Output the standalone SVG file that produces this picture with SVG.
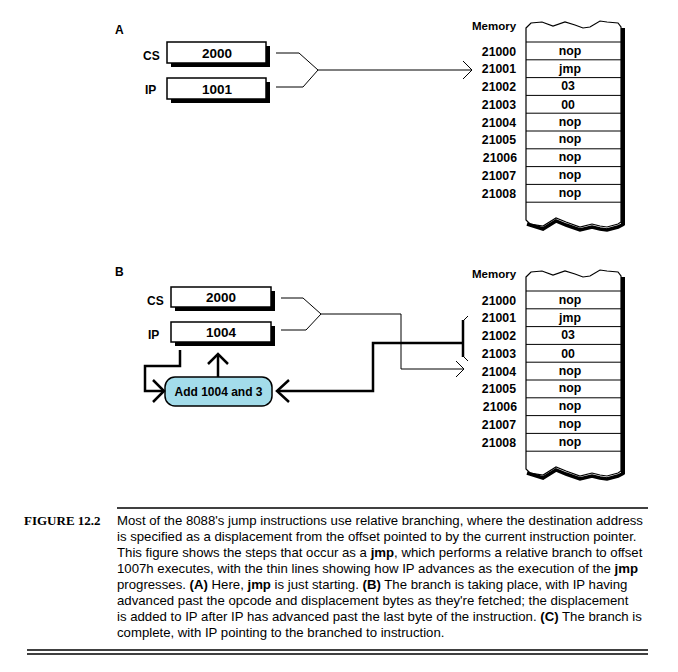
<svg xmlns="http://www.w3.org/2000/svg" width="678" height="672" viewBox="0 0 678 672">
<style>
.lbl{font-family:"Liberation Sans",Arial,sans-serif;font-weight:bold;font-size:12px;fill:#000}
.reg{font-family:"Liberation Sans",Arial,sans-serif;font-weight:bold;font-size:13.5px;fill:#000}
.mem{font-family:"Liberation Sans",Arial,sans-serif;font-weight:bold;font-size:12.3px;fill:#000}
.ctr{text-anchor:middle}
.end{text-anchor:end}
.box{fill:#fff;stroke:#000;stroke-width:1.5}
.sh{fill:#000}
.thin{fill:none;stroke:#000;stroke-width:1}
.thick{fill:none;stroke:#000;stroke-width:2.5}
.row{stroke:#000;stroke-width:1}
.cap{font-family:"Liberation Sans",Arial,sans-serif;font-size:13.2px;fill:#000}
.capb{font-weight:bold}
.fig{font-family:"Liberation Serif","Times New Roman",serif;font-weight:bold;font-size:13px;fill:#000}
</style>

<!-- Panel A -->
<text class="lbl" x="115" y="34">A</text>
<g id="cs-a">
  <rect class="sh" x="171" y="46" width="99" height="21"/>
  <rect class="box" x="167" y="42" width="99" height="21"/>
  <text class="lbl" x="143" y="60">CS</text>
  <text class="reg ctr" x="217" y="57.5">2000</text>
</g>
<g id="ip-a">
  <rect class="sh" x="171" y="82" width="99" height="21"/>
  <rect class="box" x="167" y="78" width="99" height="21"/>
  <text class="lbl" x="145" y="94">IP</text>
  <text class="reg ctr" x="217" y="93.5">1001</text>
</g>

<g id="memory-a">
  <text class="mem" x="472" y="30" style="font-size:11.5px">Memory</text>
  <path d="M526,28 L531,23 L542,22 L553,26 L565,22 L575,25 L583,28 L590,27 L600,21 L607,22 L618,23 L621,27 L621,222 L618,224 L607,227 L600,226 L592,224 L580,227 L566,222 L556,218 L543,226 L530,224 L526,220 Z" fill="#fff" stroke="#000" stroke-width="1.2"/>
  <path d="M527,224 L543,229 L556,221 L566,225 L580,230 L592,227 L600,229 L607,230 L618,227 L624,224" fill="none" stroke="#000" stroke-width="3.5"/>
  <rect class="sh" x="621" y="28" width="4" height="197"/>
  <g class="row">
    <line x1="526" y1="42" x2="621" y2="42"/>
    <line x1="526" y1="59.8" x2="621" y2="59.8"/>
    <line x1="526" y1="77.6" x2="621" y2="77.6"/>
    <line x1="526" y1="95.4" x2="621" y2="95.4"/>
    <line x1="526" y1="113.2" x2="621" y2="113.2"/>
    <line x1="526" y1="131" x2="621" y2="131"/>
    <line x1="526" y1="148.8" x2="621" y2="148.8"/>
    <line x1="526" y1="166.6" x2="621" y2="166.6"/>
    <line x1="526" y1="184.4" x2="621" y2="184.4"/>
    <line x1="526" y1="202.2" x2="621" y2="202.2"/>
  </g>
  <text class="mem end" x="516" y="55.5">21000</text>
  <text class="mem end" x="516" y="73.3">21001</text>
  <text class="mem end" x="516" y="91">21002</text>
  <text class="mem end" x="516" y="108.8">21003</text>
  <text class="mem end" x="516" y="126.6">21004</text>
  <text class="mem end" x="516" y="144.4">21005</text>
  <text class="mem end" x="517" y="162.2">21006</text>
  <text class="mem end" x="516" y="180">21007</text>
  <text class="mem end" x="516" y="197.8">21008</text>
  <text class="mem ctr" x="570" y="55">nop</text>
  <text class="mem ctr" x="570" y="73">jmp</text>
  <text class="mem ctr" x="568" y="90">03</text>
  <text class="mem ctr" x="568" y="108.5">00</text>
  <text class="mem ctr" x="570" y="125.5">nop</text>
  <text class="mem ctr" x="570" y="143.3">nop</text>
  <text class="mem ctr" x="570" y="161">nop</text>
  <text class="mem ctr" x="570" y="179">nop</text>
  <text class="mem ctr" x="570" y="197">nop</text>
</g>

<!-- Panel B -->
<text class="lbl" x="115" y="276">B</text>
<g id="cs-b">
  <rect class="sh" x="175" y="291" width="100" height="20"/>
  <rect class="box" x="171" y="287" width="100" height="20"/>
  <text class="lbl" x="147" y="305">CS</text>
  <text class="reg ctr" x="221" y="302">2000</text>
</g>
<g id="ip-b">
  <rect class="sh" x="175" y="326" width="100" height="20"/>
  <rect class="box" x="171" y="322" width="100" height="20"/>
  <text class="lbl" x="148" y="339">IP</text>
  <text class="reg ctr" x="221" y="337">1004</text>
</g>
<g id="add">
  <rect x="165" y="377" width="107" height="29" rx="10" ry="10" fill="#a3dcea" stroke="#000" stroke-width="1.5"/>
  <text class="lbl ctr" x="218.5" y="396">Add 1004 and 3</text>
</g>

<g id="memory-b">
  <text class="mem" x="472" y="278" style="font-size:11.5px">Memory</text>
  <path d="M526,277 L531,272 L542,271 L553,275 L565,271 L575,274 L583,277 L590,276 L600,270 L607,271 L618,272 L621,276 L621,471 L618,473 L607,476 L600,475 L592,473 L580,476 L566,471 L556,467 L543,475 L530,473 L526,469 Z" fill="#fff" stroke="#000" stroke-width="1.2"/>
  <path d="M527,473 L543,478 L556,470 L566,474 L580,479 L592,476 L600,478 L607,479 L618,476 L624,473" fill="none" stroke="#000" stroke-width="3.5"/>
  <rect class="sh" x="621" y="277" width="4" height="197"/>
  <g class="row">
    <line x1="526" y1="291" x2="621" y2="291"/>
    <line x1="526" y1="308.8" x2="621" y2="308.8"/>
    <line x1="526" y1="326.6" x2="621" y2="326.6"/>
    <line x1="526" y1="344.4" x2="621" y2="344.4"/>
    <line x1="526" y1="362.2" x2="621" y2="362.2"/>
    <line x1="526" y1="380" x2="621" y2="380"/>
    <line x1="526" y1="397.8" x2="621" y2="397.8"/>
    <line x1="526" y1="415.6" x2="621" y2="415.6"/>
    <line x1="526" y1="433.4" x2="621" y2="433.4"/>
    <line x1="526" y1="451.2" x2="621" y2="451.2"/>
  </g>
  <text class="mem end" x="516" y="304.5">21000</text>
  <text class="mem end" x="516" y="322.3">21001</text>
  <text class="mem end" x="516" y="340">21002</text>
  <text class="mem end" x="516" y="357.8">21003</text>
  <text class="mem end" x="516" y="375.6">21004</text>
  <text class="mem end" x="516" y="393.4">21005</text>
  <text class="mem end" x="517" y="411.2">21006</text>
  <text class="mem end" x="516" y="429">21007</text>
  <text class="mem end" x="516" y="446.8">21008</text>
  <text class="mem ctr" x="570" y="304">nop</text>
  <text class="mem ctr" x="570" y="322">jmp</text>
  <text class="mem ctr" x="568" y="339">03</text>
  <text class="mem ctr" x="568" y="357.5">00</text>
  <text class="mem ctr" x="570" y="374.5">nop</text>
  <text class="mem ctr" x="570" y="392.3">nop</text>
  <text class="mem ctr" x="570" y="410">nop</text>
  <text class="mem ctr" x="570" y="428">nop</text>
  <text class="mem ctr" x="570" y="446">nop</text>
</g>

<g id="connectors">
  <!-- A -->
  <polyline class="thin" points="276,53 299,53 318,70 303,87 276,87"/>
  <line class="thin" x1="318" y1="70" x2="472" y2="70"/>
  <polyline class="thin" points="463,61 472,70 463,79"/>
  <!-- B thin -->
  <polyline class="thin" points="281,298 303,298 321,314 306,330 281,330"/>
  <polyline class="thin" points="321,314 401,314 401,369 464,369"/>
  <polyline class="thin" points="456,361 464,369 456,377"/>
  <!-- brace -->
  <line x1="463" y1="320" x2="463" y2="357" stroke="#000" stroke-width="2.5"/>
  <polyline class="thin" points="463,321 468,316"/>
  <polyline class="thin" points="463,356 468,361"/>
  <!-- thick path to add box -->
  <polyline class="thick" points="463,343 373,343 373,391 278,391"/>
  <polyline class="thick" points="289,380 277,391 289,402"/>
  <!-- IP to add -->
  <polyline class="thick" points="180,350 180,366 145,366 145,391 163,391"/>
  <polyline class="thick" points="153,380 164,391 153,402"/>
  <!-- add to IP -->
  <line class="thick" x1="218" y1="377" x2="218" y2="354"/>
  <polyline class="thick" points="208,364 218,354 228,364"/>
</g>

<!-- Caption -->
<line x1="117" y1="508" x2="648" y2="508" stroke="#000" stroke-width="1.5"/>
<text class="fig" x="24" y="525">FIGURE 12.2</text>
<text class="cap" x="117" y="525">Most of the 8088's jump instructions use relative branching, where the destination address</text>
<text class="cap" x="117" y="541">is specified as a displacement from the offset pointed to by the current instruction pointer.</text>
<text class="cap" x="117" y="557">This figure shows the steps that occur as a <tspan class="capb">jmp</tspan>, which performs a relative branch to offset</text>
<text class="cap" x="117" y="573">1007h executes, with the thin lines showing how IP advances as the execution of the <tspan class="capb">jmp</tspan></text>
<text class="cap" x="117" y="589">progresses. <tspan class="capb">(A)</tspan> Here, <tspan class="capb">jmp</tspan> is just starting. <tspan class="capb">(B)</tspan> The branch is taking place, with IP having</text>
<text class="cap" x="117" y="605">advanced past the opcode and displacement bytes as they're fetched; the displacement</text>
<text class="cap" x="117" y="621">is added to IP after IP has advanced past the last byte of the instruction. <tspan class="capb">(C)</tspan> The  branch is</text>
<text class="cap" x="117" y="637">complete, with IP pointing to the branched to instruction.</text>
<line x1="27" y1="650" x2="648" y2="650" stroke="#000" stroke-width="1.5"/>
<line x1="27" y1="654" x2="648" y2="654" stroke="#000" stroke-width="1.5"/>
</svg>
